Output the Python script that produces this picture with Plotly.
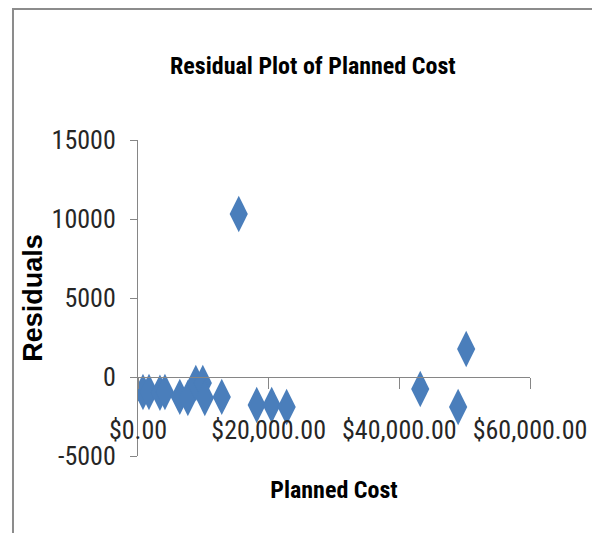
import plotly.graph_objects as go

# planned cost vs residual
planned_cost = [760, 1680, 3360, 4120, 6400, 7630, 8850, 9920, 10230, 12820,
                15420, 18170, 20460, 22750, 43200, 49000, 50230]
residuals = [-950, -950, -1000, -950, -1260, -1330, -380, -380, -1330, -1260,
             10320, -1770, -1770, -1900, -760, -1900, 1770]

y_tick_vals = [-5000, 0, 5000, 10000, 15000]
y_tick_text = ["-5000", "0", "5000", "10000", "15000"]
x_tick_vals = [0, 20000, 40000, 60000]
x_tick_text = ["$0.00", "$20,000.00", "$40,000.00", "$60,000.00"]

narrow = "Roboto Condensed, Liberation Sans Narrow, sans-serif"
axis_grey = "#868686"

fig = go.Figure()
fig.add_trace(go.Scatter(
    x=planned_cost, y=residuals, mode="markers",
    marker=dict(symbol="diamond-tall", size=26, color="#4a7ebb", line=dict(width=0)),
    showlegend=False,
))

# page has an 8px body margin, so the figure is 8px smaller than the window
fig.update_layout(
    width=592, height=525,
    paper_bgcolor="white", plot_bgcolor="white",
    margin=dict(l=130, r=70, t=132, b=77),
    title=dict(text="<b>Residual Plot of Planned Cost</b>", x=0.515, xanchor="center",
               y=0.8895, yanchor="middle",
               font=dict(family=narrow, size=24, color="black")),
    xaxis=dict(
        range=[0, 60000], tickvals=x_tick_vals, ticktext=x_tick_text,
        anchor="free", position=0.25,
        showline=True, linecolor=axis_grey, linewidth=1,
        ticks="outside", ticklen=11, tickcolor=axis_grey,
        ticklabelstandoff=19,
        showgrid=False, zeroline=False,
        tickfont=dict(family=narrow, size=26, color="#262626"),
        title=dict(text="<b>Planned Cost</b>", standoff=36,
                   font=dict(family=narrow, size=24, color="black")),
    ),
    yaxis=dict(
        range=[-5000, 15000], tickvals=y_tick_vals, ticktext=y_tick_text,
        showline=True, linecolor=axis_grey, linewidth=1,
        ticks="outside", ticklen=7, tickcolor=axis_grey,
        ticklabelstandoff=9,
        showgrid=False, zeroline=False,
        tickfont=dict(family=narrow, size=26, color="#262626"),
        title=dict(text="<b>Residuals</b>", standoff=1,
                   font=dict(family="Liberation Sans, Arial, sans-serif", size=27, color="black")),
    ),
    shapes=[dict(
        type="path", xref="paper", yref="paper",
        path="M -0.3189,-0.3 L -0.3189,1.4146 L 1.25,1.4146",
        line=dict(color="#8c8c8c", width=2),
    )],
)

fig.write_html("out.html")
